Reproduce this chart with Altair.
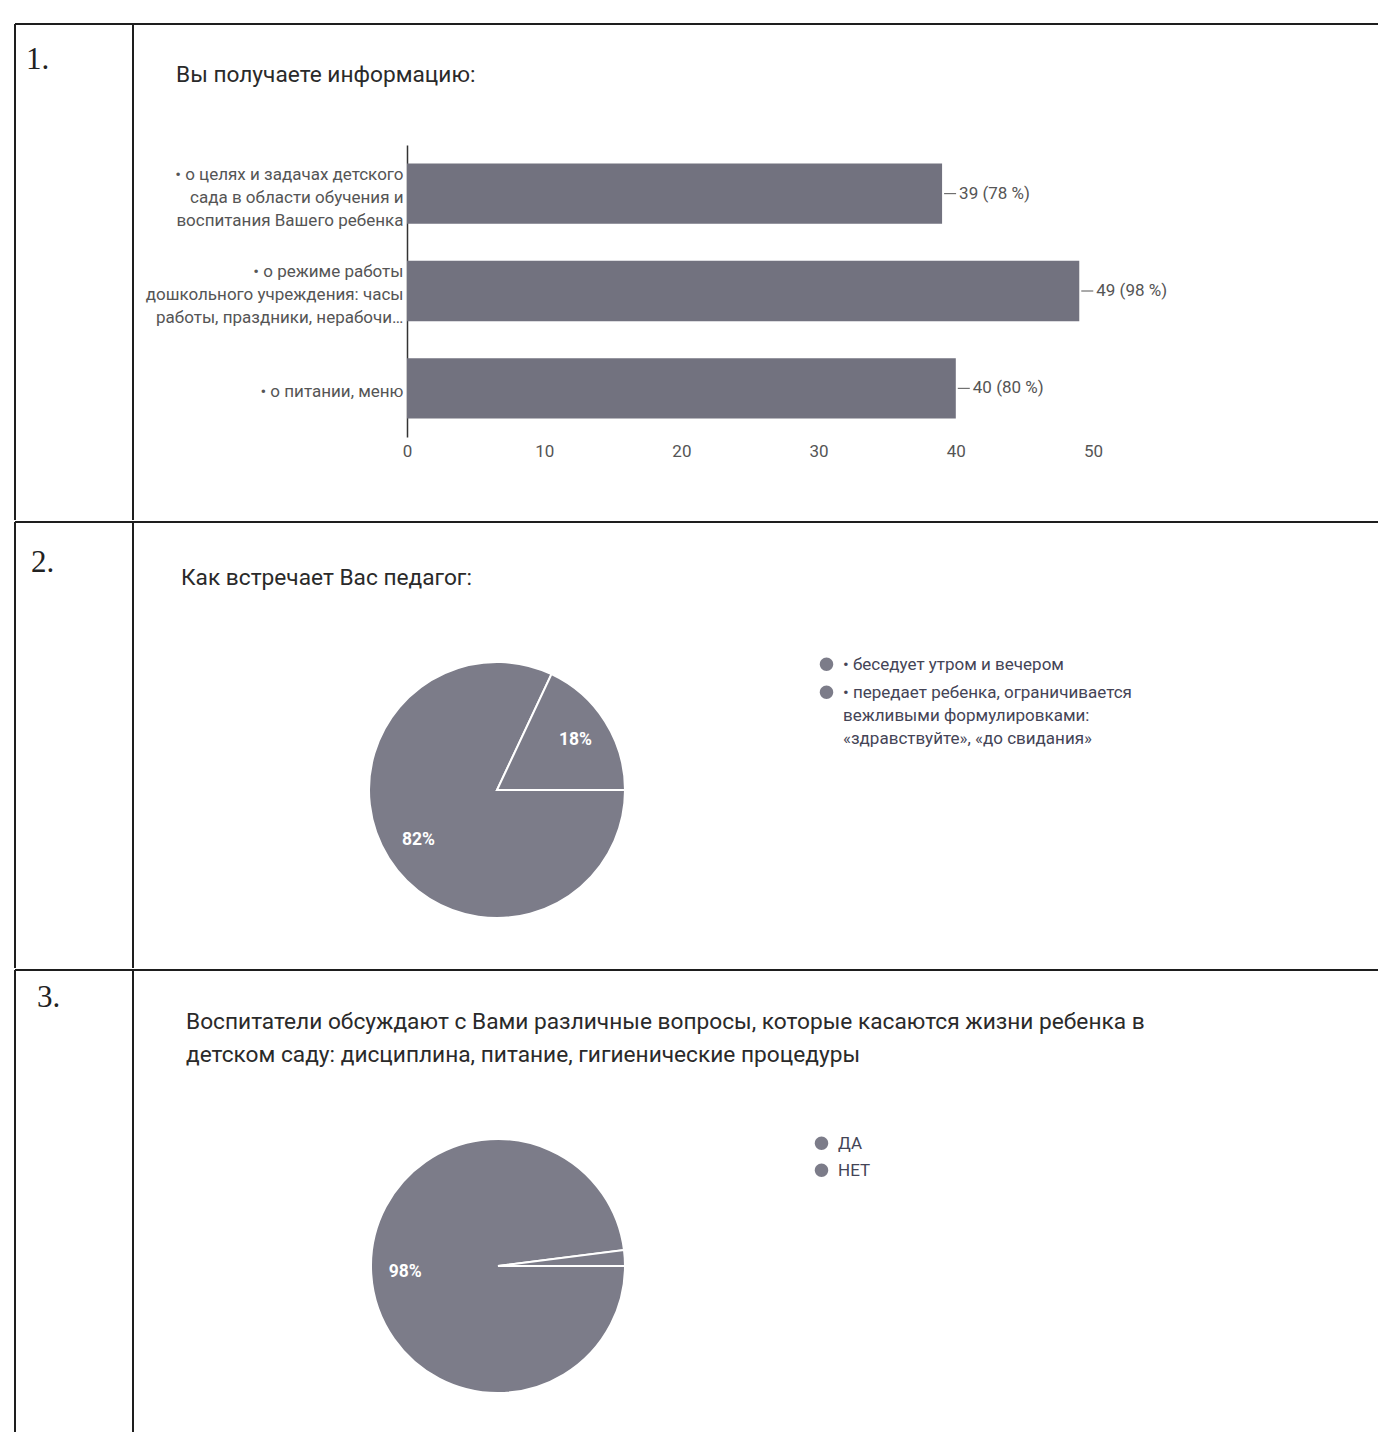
import math
import altair as alt
import pandas as pd

# ---------------- data ----------------
row_numbers = ["1.", "2.", "3."]

q1_title = ["Вы получаете информацию:"]
q1_categories = [
    "• о целях и задачах детского\nсада в области обучения и\nвоспитания Вашего ребенка",
    "• о режиме работы\nдошкольного учреждения: часы\nработы, праздники, нерабочи…",
    "• о питании, меню",
]
q1_counts = [39, 49, 40]
q1_percents = [78, 98, 80]
q1_ticks = [0, 10, 20, 30, 40, 50]

q2_title = ["Как встречает Вас педагог:"]
q2_categories = [
    "• беседует утром и вечером",
    "• передает ребенка, ограничивается\nвежливыми формулировками:\n«здравствуйте», «до свидания»",
]
q2_percents = [82, 18]

q3_title = [
    "Воспитатели обсуждают с Вами различные вопросы, которые касаются жизни ребенка в",
    "детском саду: дисциплина, питание, гигиенические процедуры",
]
q3_categories = ["ДА", "НЕТ"]
q3_percents = [98, 2]

# ---------------- style ----------------
LINE = "#1e1e1e"
BAR = "#72727f"
PIE = "#7c7c89"
AXIS_TXT = "#555555"
FONT = "Roboto"
NUM_W = 118
CELL_W = 1245
ROW_H = [496, 446, 462]
SYM = "M -1 -0.78 A 1 1 0 1 1 1 -0.78 A 1 1 0 1 1 -1 -0.78 Z"


def one():
    return pd.DataFrame({"k": [0]})


def hline(width, y):
    return alt.Chart(one()).mark_rule(color=LINE, strokeWidth=2).encode(
        x=alt.value(0), x2=alt.value(width), y=alt.value(y))


def vline(x, height):
    return alt.Chart(one()).mark_rule(color=LINE, strokeWidth=2).encode(
        x=alt.value(x), y=alt.value(0), y2=alt.value(height))


def number_cell(label, height, tx, ty):
    txt = alt.Chart(pd.DataFrame({"n": [label]})).mark_text(
        font="Liberation Serif", fontSize=31, align="left", baseline="middle", color="#222222"
    ).encode(x=alt.value(tx), y=alt.value(ty), text="n:N")
    return alt.layer(vline(0, height), vline(NUM_W, height), hline(NUM_W, 0), txt).properties(
        width=NUM_W, height=height)


def title_mark(lines, x, y):
    return alt.Chart(pd.DataFrame({"t": ["\n".join(lines)]})).mark_text(
        font=FONT, fontSize=22.7, align="left", baseline="middle", color="#2a2a2a",
        lineBreak="\n", lineHeight=33
    ).encode(x=alt.value(x), y=alt.value(y), text="t:N")


# ---------------- row 1: bar chart ----------------
H1 = ROW_H[0]
X0, X50 = 274, 960
bar_df = pd.DataFrame({"cat": q1_categories, "count": q1_counts, "pct": q1_percents})

xq = alt.X("count:Q",
           scale=alt.Scale(domain=[0, 50], range=[X0, X50], nice=False),
           axis=alt.Axis(values=q1_ticks, offset=418 - H1, domain=False, ticks=False, grid=False,
                         labelPadding=1, labelFontSize=17, labelColor=AXIS_TXT, labelFont=FONT,
                         labelFlush=False, title=None))
yc = alt.Y("cat:N", sort=q1_categories,
           scale=alt.Scale(range=[121, 413], paddingInner=0.38, paddingOuter=0.19),
           axis=alt.Axis(offset=-X0,
                         labelExpr="length(split(datum.label, '\\n')) == 1 ? ['', datum.label, ''] : split(datum.label, '\\n')",
                         labelLimit=0, ticks=False, domainColor="#333333", domainWidth=1.5,
                         labelPadding=4, labelFontSize=17, labelColor=AXIS_TXT, labelFont=FONT,
                         labelLineHeight=23, labelOffset=-19, title=None, grid=False))
y_plain = alt.Y("cat:N", sort=q1_categories)

bars = alt.Chart(bar_df).mark_bar(color=BAR).encode(x=xq, y=yc)
leader = alt.Chart(bar_df).mark_rule(color=AXIS_TXT, strokeWidth=1, xOffset=2, x2Offset=14).encode(
    x="count:Q", x2="count:Q", y=y_plain)
values = alt.Chart(bar_df).transform_calculate(
    lbl="datum.count + ' (' + datum.pct + ' %)'"
).mark_text(align="left", baseline="middle", dx=17, fontSize=17, font=FONT, color=AXIS_TXT).encode(
    x="count:Q", y=y_plain, text="lbl:N")

cell1 = alt.layer(hline(CELL_W, 0), title_mark(q1_title, 43, 51), bars, leader, values).properties(
    width=CELL_W, height=H1)


# ---------------- pie cells ----------------
def pie_cell(cats, pcts, title_lines, tx, ty, cx, cy, r, lx, ly, rowpad, height):
    df = pd.DataFrame({"cat": cats, "pct": pcts, "ord": list(range(len(cats)))})
    theta = alt.Theta("pct:Q", stack=True,
                      scale=alt.Scale(range=[math.pi / 2, math.pi * 2.5]))
    color = alt.Color("cat:N", sort=cats,
                      scale=alt.Scale(domain=cats, range=[PIE] * len(cats)),
                      legend=alt.Legend(orient="none", legendX=lx, legendY=ly, title=None,
                                        symbolType=SYM, symbolSize=180, symbolStrokeWidth=0,
                                        labelFont=FONT, labelFontSize=17, labelColor="#444456",
                                        labelExpr="split(datum.label, '\\n')", labelLimit=0,
                                        labelBaseline="alphabetic", labelOffset=8,
                                        rowPadding=rowpad, padding=0))
    arcs = alt.Chart(df).mark_arc(radius=r, stroke="white", strokeWidth=2).encode(
        theta=theta, color=color, order=alt.Order("ord:Q"),
        x=alt.value(cx), y=alt.value(cy))
    txt = alt.Chart(df).transform_calculate(
        lbl="datum.pct >= 5 ? datum.pct + '%' : ''"
    ).mark_text(radius=93, fontSize=17.5, fontWeight="bold", font=FONT, color="white").encode(
        theta=theta, detail="cat:N", order=alt.Order("ord:Q"),
        x=alt.value(cx), y=alt.value(cy), text="lbl:N")
    return alt.layer(hline(CELL_W, 0), title_mark(title_lines, tx, ty), arcs, txt).properties(
        width=CELL_W, height=height)


# legend positions are measured from the row's left edge (number column included)
cell2 = pie_cell(q2_categories, q2_percents, q2_title, 48, 56, 364, 268, 128,
                 687 + NUM_W - 2, 139, 10, ROW_H[1])
cell3 = pie_cell(q3_categories, q3_percents, q3_title, 53, 52, 365, 296, 127,
                 682 + NUM_W - 2, 170, 9, ROW_H[2])

row1 = alt.hconcat(number_cell(row_numbers[0], ROW_H[0], 11, 36), cell1, spacing=0, bounds="flush")
row2 = alt.hconcat(number_cell(row_numbers[1], ROW_H[1], 16, 41), cell2, spacing=0, bounds="flush")
row3 = alt.hconcat(number_cell(row_numbers[2], ROW_H[2], 22, 28), cell3, spacing=0, bounds="flush")

chart = alt.vconcat(row1, row2, row3, spacing=0).resolve_scale(color="independent").properties(
    padding={"left": 6, "top": 15, "right": 0, "bottom": 0}
).configure(style={"guide-label": {"lineHeight": 23}}).configure_view(stroke=None)

chart.save("out.html", embed_options={"renderer": "svg", "actions": False})
